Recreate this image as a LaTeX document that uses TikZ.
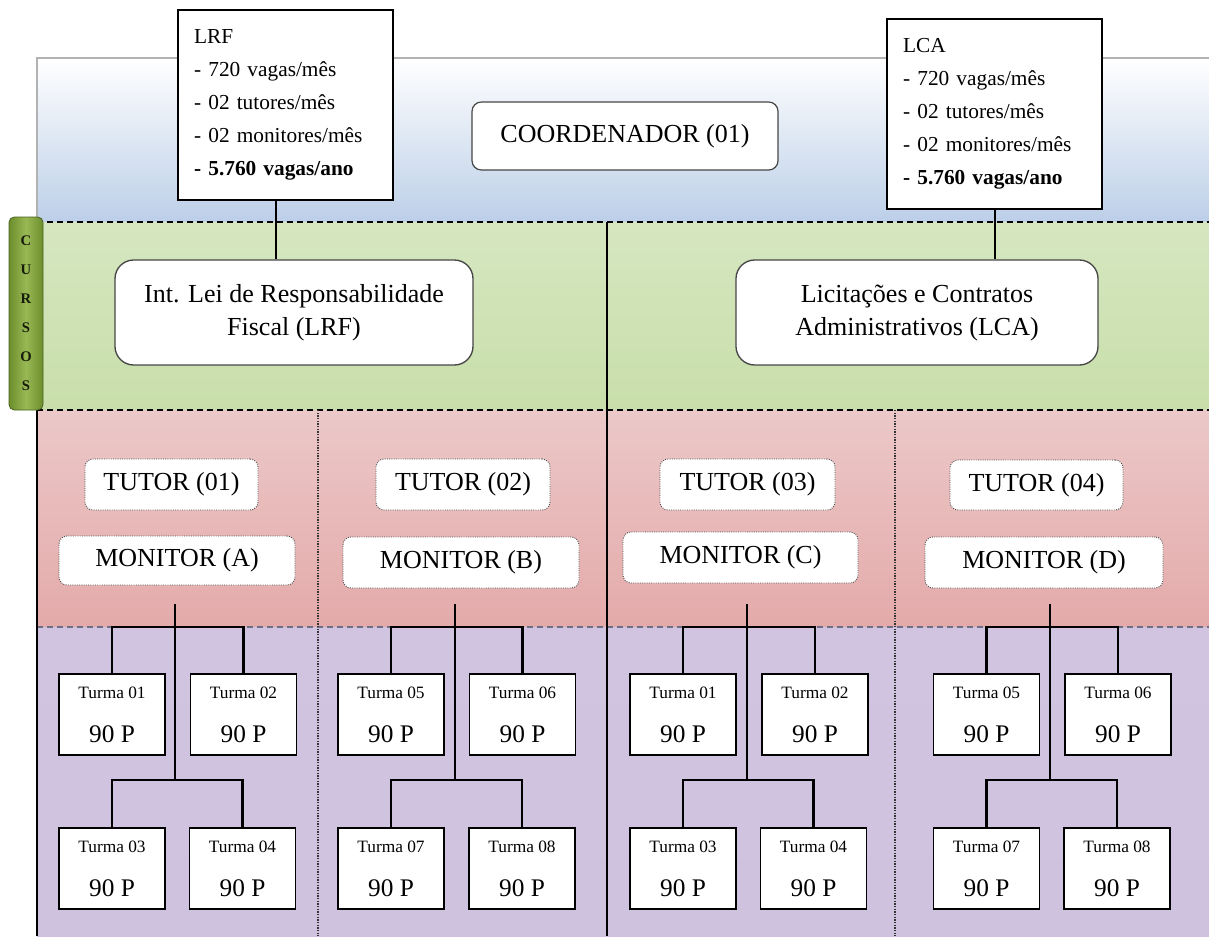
\documentclass[tikz,border=0pt]{standalone}
\usepackage{fontspec}
\setmainfont{Liberation Serif}
\usepackage{tikz}
\definecolor{BandBlue}{RGB}{188,207,232}
\definecolor{BandGreenA}{RGB}{214,231,192}
\definecolor{BandGreenB}{RGB}{228,238,212}
\definecolor{BandGreenC}{RGB}{200,222,170}
\definecolor{BandRedA}{RGB}{236,200,200}
\definecolor{BandRedB}{RGB}{245,224,224}
\definecolor{BandRedC}{RGB}{228,170,170}
\definecolor{BandLilacA}{RGB}{208,196,224}
\definecolor{BandLilacB}{RGB}{230,225,240}
\definecolor{BandLilacC}{RGB}{206,194,222}
\definecolor{BandGray}{RGB}{110,110,135}
\definecolor{TabGreen}{RGB}{108,142,44}
\definecolor{TabLight}{RGB}{152,184,84}
\definecolor{BoxEdge}{RGB}{70,70,70}
\tikzset{
  wh/.style 2 args={minimum width=#1*0.75pt, minimum height=#2*0.75pt},
  info/.style={rectangle, draw=black, line width=1.1pt, fill=white, align=left,
    text width=137pt, inner xsep=12pt, inner ysep=0pt, font=\fontsize{16}{24.75}\selectfont},
  coordbox/.style={rectangle, rounded corners=7pt, draw=BoxEdge, line width=0.9pt, fill=white,
    inner sep=0pt, font=\fontsize{19.5}{24}\selectfont},
  course/.style={rectangle, rounded corners=14pt, draw=BoxEdge, line width=1pt, fill=white,
    align=center, inner sep=0pt, font=\fontsize{19.5}{24.75}\selectfont},
  role/.style={rectangle, rounded corners=6pt, draw=black!70, densely dotted, line width=0.7pt,
    fill=white, inner sep=0pt, font=\fontsize{19.5}{24}\selectfont},
  turma/.style={rectangle, draw=black, line width=1.1pt, fill=white, align=center, wh={106}{81},
    inner sep=0pt, font=\fontsize{19}{33}\selectfont},
  tab/.style={rectangle, rounded corners=4pt, draw=TabGreen!70!black, line width=0.6pt,
    left color=TabGreen, right color=TabGreen, middle color=TabLight, align=center,
    inner sep=0pt, text=black!80!TabGreen, font=\fontsize{11}{21.75}\selectfont\bfseries},
  split/.style={dash pattern=on 4.5pt off 3pt, line width=1.1pt},
  ridge/.style={line width=1.5pt},
  seam/.style={densely dotted, line width=1pt, black!80},
  link/.style={line width=1.5pt},
  conn/.style={line width=2pt},
}
\newcommand{\turmalabel}[1]{{\fontsize{13}{13}\selectfont Turma #1}\\90 P}

\begin{document}
\begin{tikzpicture}[x=0.75pt, y=-0.75pt]
  \useasboundingbox (0,0) rectangle (1209,936);
  \fill[white] (0,0) rectangle (1209,936);
  % faixas de fundo
  \shade[top color=white, bottom color=BandBlue] (37,58) rectangle (1209,222);
  \shade[top color=BandGreenA, middle color=BandGreenB, bottom color=BandGreenC] (37,222) rectangle (1209,410);
  \shade[top color=BandRedA, middle color=BandRedB, bottom color=BandRedC] (37,410) rectangle (1209,627);
  \shade[top color=BandLilacA, middle color=BandLilacB, bottom color=BandLilacC] (37,627) rectangle (1209,936);
  \draw[gray!60, line width=0.8pt] (37,222) -- (37,58) -- (1209,58);
  \draw[split] (37,222) -- (1209,222);
  \draw[split] (37,410) -- (1209,410);
  \draw[split, BandGray, line width=1.6pt] (37,627) -- (1209,627);
  \draw[ridge] (607,222) -- (607,936);
  \draw[ridge] (37,410) -- (37,936);
  \draw[seam] (318,410) -- (318,936);
  \draw[seam] (895,410) -- (895,936);

  % coordenacao e cursos
  \node[info, wh={215}{190}] (lrf) at (285.5,105) {LRF\\- 720 vagas/mês\\- 02 tutores/mês\\- 02 monitores/mês\\\textbf{- 5.760 vagas/ano}};
  \node[info, wh={211}{190}] (lca) at (994.5,114) {LCA\\- 720 vagas/mês\\- 02 tutores/mês\\- 02 monitores/mês\\\textbf{- 5.760 vagas/ano}};
  \node[coordbox, wh={306}{68}] (coord) at (625,136) {COORDENADOR (01)};
  \node[course, wh={358}{105}] (cur1) at (294,312.5) {Int. Lei de Responsabilidade\\Fiscal (LRF)};
  \node[course, wh={362}{105}] (cur2) at (917,312.5) {Licitações e Contratos\\Administrativos (LCA)};
  \node[tab, wh={34}{193}] (cursos) at (26,313.5) {C\\U\\R\\S\\O\\S};
  \draw[link] ([xshift=-7.5pt]lrf.south) -- ([xshift=-7.5pt]lrf.south |- cur1.north);
  \draw[link] (lca.south) -- (lca.south |- cur2.north);

  % tutores e monitores
  \node[role, wh={173}{51}] (tut1) at (171.5,484.5) {TUTOR (01)};
  \node[role, wh={236}{49}] (mon1) at (177,560.5) {MONITOR (A)};
  \node[role, wh={174}{51}] (tut2) at (463,484.5) {TUTOR (02)};
  \node[role, wh={236}{51}] (mon2) at (461,562.5) {MONITOR (B)};
  \node[role, wh={175}{51}] (tut3) at (747.5,484.5) {TUTOR (03)};
  \node[role, wh={235}{51}] (mon3) at (740.5,557.5) {MONITOR (C)};
  \node[role, wh={173}{50}] (tut4) at (1036.5,485) {TUTOR (04)};
  \node[role, wh={238}{51}] (mon4) at (1044,562.5) {MONITOR (D)};

  % turmas
  \node[turma] (a1) at (112,714.5) {\turmalabel{01}};
  \node[turma] (a2) at (243.5,714.5) {\turmalabel{02}};
  \node[turma] (a3) at (112,868.5) {\turmalabel{03}};
  \node[turma] (a4) at (242.5,868.5) {\turmalabel{04}};
  \node[turma] (b1) at (391,714.5) {\turmalabel{05}};
  \node[turma] (b2) at (522.5,714.5) {\turmalabel{06}};
  \node[turma] (b3) at (391,868.5) {\turmalabel{07}};
  \node[turma] (b4) at (522,868.5) {\turmalabel{08}};
  \node[turma] (c1) at (683,714.5) {\turmalabel{01}};
  \node[turma] (c2) at (815,714.5) {\turmalabel{02}};
  \node[turma] (c3) at (683,868.5) {\turmalabel{03}};
  \node[turma] (c4) at (813.5,868.5) {\turmalabel{04}};
  \node[turma] (d1) at (986.5,714.5) {\turmalabel{05}};
  \node[turma] (d2) at (1118,714.5) {\turmalabel{06}};
  \node[turma] (d3) at (986.5,868.5) {\turmalabel{07}};
  \node[turma] (d4) at (1117,868.5) {\turmalabel{08}};

  % ligacoes
  \coordinate (s1) at (175,604); \coordinate (u1) at (175,627); \coordinate (l1) at (175,780);
  \coordinate (s2) at (455,604); \coordinate (u2) at (455,627); \coordinate (l2) at (455,780);
  \coordinate (s3) at (747,604); \coordinate (u3) at (747,627); \coordinate (l3) at (747,780);
  \coordinate (s4) at (1050,604); \coordinate (u4) at (1050,627); \coordinate (l4) at (1050,780);
  \draw[conn] (s1) -- (l1); \draw[conn] (a1.north) |- (u1) -| (a2.north); \draw[conn] (a3.north) |- (l1) -| (a4.north);
  \draw[conn] (s2) -- (l2); \draw[conn] (b1.north) |- (u2) -| (b2.north); \draw[conn] (b3.north) |- (l2) -| (b4.north);
  \draw[conn] (s3) -- (l3); \draw[conn] (c1.north) |- (u3) -| (c2.north); \draw[conn] (c3.north) |- (l3) -| (c4.north);
  \draw[conn] (s4) -- (l4); \draw[conn] (d1.north) |- (u4) -| (d2.north); \draw[conn] (d3.north) |- (l4) -| (d4.north);
\end{tikzpicture}
\end{document}
